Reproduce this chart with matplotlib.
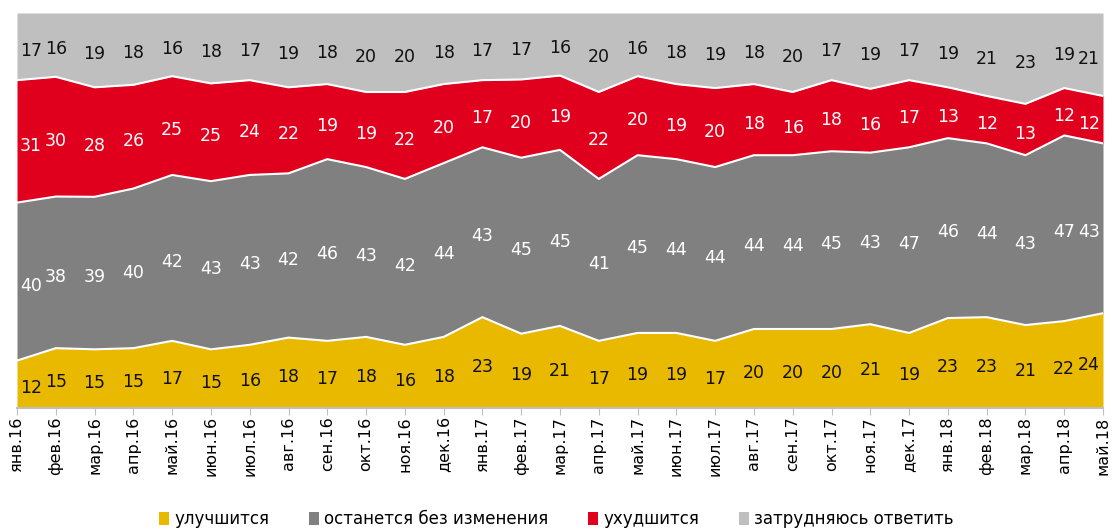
import matplotlib
matplotlib.use("Agg")
import matplotlib.pyplot as plt
from matplotlib.patches import Patch
import numpy as np

months = ["янв.16","фев.16","мар.16","апр.16","май.16","июн.16","июл.16","авг.16","сен.16","окт.16","ноя.16","дек.16",
          "янв.17","фев.17","мар.17","апр.17","май.17","июн.17","июл.17","авг.17","сен.17","окт.17","ноя.17","дек.17",
          "янв.18","фев.18","мар.18","апр.18","май.18"]
improve = [12,15,15,15,17,15,16,18,17,18,16,18,23,19,21,17,19,19,17,20,20,20,21,19,23,23,21,22,24]
same    = [40,38,39,40,42,43,43,42,46,43,42,44,43,45,45,41,45,44,44,44,44,45,43,47,46,44,43,47,43]
worse   = [31,30,28,26,25,25,24,22,19,19,22,20,17,20,19,22,20,19,20,18,16,18,16,17,13,12,13,12,12]
hard    = [17,16,19,18,16,18,17,19,18,20,20,18,17,17,16,20,16,18,19,18,20,17,19,17,19,21,23,19,21]
names = ["улучшится", "останется без изменения", "ухудшится", "затрудняюсь ответить"]
colors = ["#E9B900", "#808080", "#E0001E", "#BFBFBF"]
txtcolors = ["#111111", "white", "white", "#111111"]

plt.rcParams['font.family'] = ["DejaVu Sans"]

fig = plt.figure(figsize=(11.13, 5.30), dpi=100)
ax = fig.add_axes([17/1113, 1-408/530, (1103-17)/1113, (408-13)/530])

x = np.arange(len(months))
series = [improve, same, worse, hard]
tot = np.array(series, dtype=float).sum(axis=0)
base = np.zeros(len(x))
for vals, c, tc in zip(series, colors, txtcolors):
    v = np.array(vals, dtype=float) / tot * 100
    ax.fill_between(x, base, base + v, color=c, linewidth=0)
    for i in range(len(x)):
        dx = 0
        if i == 0:
            dx = 10
        elif i == len(x) - 1:
            dx = -10
        ax.annotate(str(vals[i]), (x[i], base[i] + v[i] / 2), xytext=(dx, -3),
                    textcoords="offset points", ha="center", va="center",
                    color=tc, fontsize=12.5)
    base = base + v
# white separators
base = np.zeros(len(x))
for vals in series[:-1]:
    base = base + np.array(vals, dtype=float) / tot * 100
    ax.plot(x, base, color="white", linewidth=1.5)

ax.set_xlim(0, len(x) - 1)
ax.set_ylim(0, 100)
ax.set_yticks([])
ax.set_xticks(x)
ax.set_xticklabels(months, rotation=90, fontsize=11.5)
for s in ["top", "right", "left"]:
    ax.spines[s].set_visible(False)
ax.spines["bottom"].set_color("#BFBFBF")
ax.spines["bottom"].set_linewidth(1.5)
ax.tick_params(axis="x", length=5, color="#BFBFBF", pad=1)

handles = [Patch(facecolor=c, edgecolor="none") for c in colors]
fig.legend(handles, names, loc="lower center", bbox_to_anchor=(0.5, -0.025), ncol=4,
           frameon=False, fontsize=12, handlelength=0.6, handleheight=0.9,
           handletextpad=0.3, columnspacing=2.4)

fig.savefig("out.png", dpi=100)
